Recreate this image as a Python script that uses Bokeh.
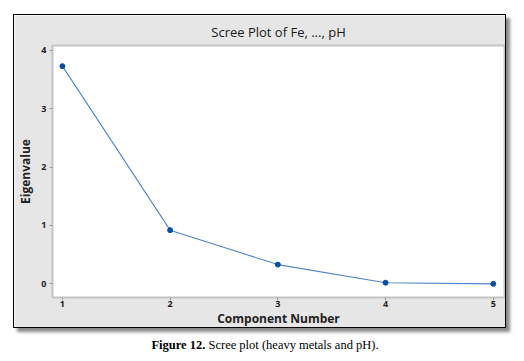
from bokeh.plotting import figure
from bokeh.models import Div, FixedTicker, Spacer
from bokeh.layouts import column, row
from bokeh.embed import file_html
from bokeh.resources import INLINE

components = [1, 2, 3, 4, 5]
eigenvalues = [3.73, 0.92, 0.33, 0.02, 0.0]
x_ticks = [1, 2, 3, 4, 5]
y_ticks = [0, 1, 2, 3, 4]
title_text = "Scree Plot of Fe, ..., pH"
x_label = "Component Number"
y_label = "Eigenvalue"

p = figure(width=493, height=314, output_backend="svg", toolbar_location=None,
           x_range=(0.908, 5.104), y_range=(-0.234, 4.084),
           title=title_text,
           min_border_left=32, min_border_right=3, min_border_top=27, min_border_bottom=29)
p.styles = {"border": "1.5px solid black", "box-shadow": "4px 4px 3px #8a8a8a"}
p.background_fill_color = "white"
p.border_fill_color = "#e6e6e6"
p.outline_line_color = "#c4c4c4"
p.outline_line_width = 2
p.grid.visible = False

p.title.align = "center"
p.title.text_font = "Open Sans"
p.title.text_font_size = "13px"
p.title.text_font_style = "normal"
p.title.text_color = "#1a1a1a"
p.title.standoff = 10

for ax in (p.xaxis[0], p.yaxis[0]):
    ax.axis_line_color = None
    ax.major_tick_line_color = "#9a9a9a"
    ax.major_tick_in = 0
    ax.major_tick_out = 3
    ax.minor_tick_line_color = None
    ax.major_label_text_font = "Open Sans"
    ax.major_label_text_font_size = "9px"
    ax.major_label_text_font_style = "bold"
    ax.major_label_text_color = "#222222"
    ax.axis_label_text_font = "Open Sans"
    ax.axis_label_text_font_size = "12px"
    ax.axis_label_text_font_style = "bold"
    ax.axis_label_text_color = "#222222"

p.xaxis.major_label_standoff = 0
p.xaxis.axis_label_standoff = 0
p.yaxis.major_label_standoff = 3
p.yaxis.axis_label_standoff = 4

p.xaxis.ticker = FixedTicker(ticks=x_ticks)
p.yaxis.ticker = FixedTicker(ticks=y_ticks)
p.xaxis.axis_label = x_label
p.yaxis.axis_label = y_label

p.line(components, eigenvalues, line_color="#4f86c6", line_width=1.1)
p.scatter(components, eigenvalues, size=5, fill_color="#0a4fa0", line_color="#0a4fa0")

caption = Div(text='<b>Figure 12.</b> Scree plot (heavy metals and pH).',
              width=504, height=16, margin=(9, 0, 0, 0),
              styles={"font-family": "Liberation Serif, serif", "font-size": "12.5px",
                      "text-align": "center", "color": "black", "width": "504px"})

layout = row(Spacer(width=13, height=10),
             column(Spacer(width=10, height=14), p, caption))
open("out.html", "w").write(file_html(layout, INLINE))
